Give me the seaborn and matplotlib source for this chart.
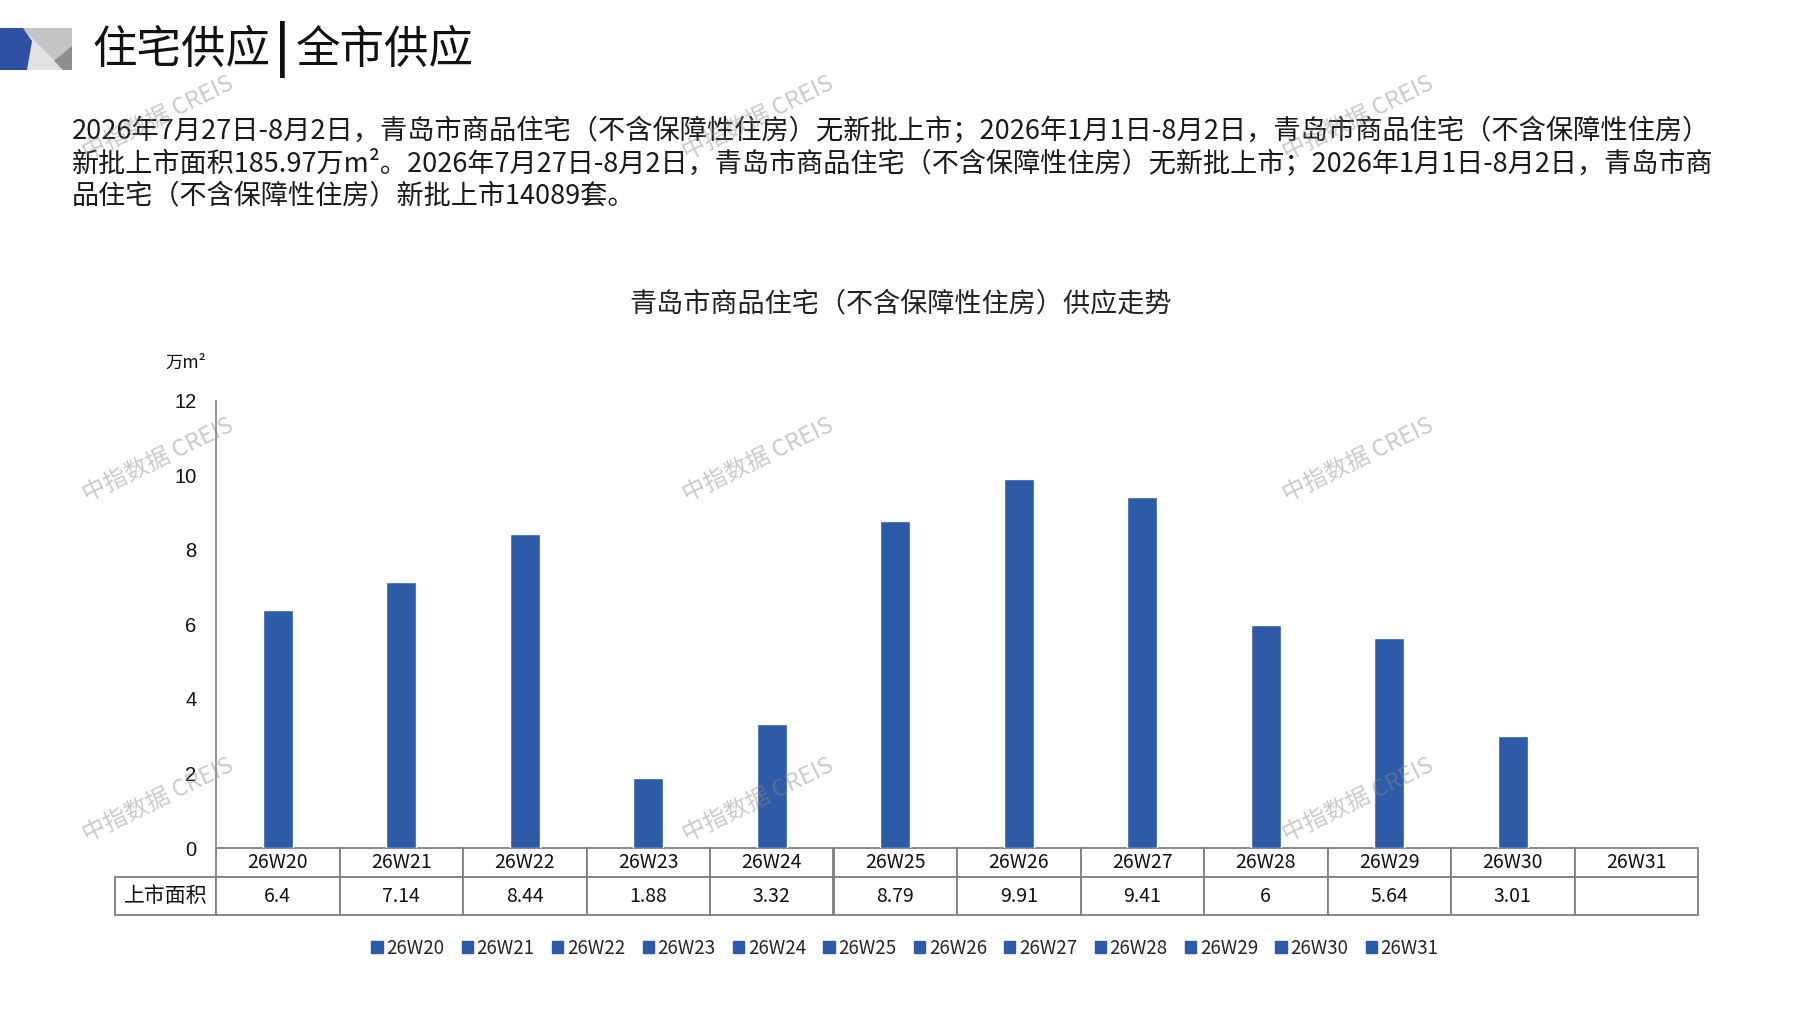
import numpy as np
import pandas as pd
import matplotlib
matplotlib.use("Agg")
import matplotlib.pyplot as plt
from matplotlib.patches import Polygon, Patch
import seaborn as sns

# ---------------- data ----------------
weeks = ["26W20", "26W21", "26W22", "26W23", "26W24", "26W25",
         "26W26", "26W27", "26W28", "26W29", "26W30", "26W31"]
area = [6.4, 7.14, 8.44, 1.88, 3.32, 8.79, 9.91, 9.41, 6, 5.64, 3.01, np.nan]
row_label = "上市面积"
y_ticks = [0, 2, 4, 6, 8, 10, 12]

title_left = "住宅供应"
title_bar = "|"
title_right = "全市供应"
para_lines = [
    "2026年7月27日-8月2日，青岛市商品住宅（不含保障性住房）无新批上市；2026年1月1日-8月2日，青岛市商品住宅（不含保障性住房）",
    "新批上市面积185.97万m²。2026年7月27日-8月2日，青岛市商品住宅（不含保障性住房）无新批上市；2026年1月1日-8月2日，青岛市商",
    "品住宅（不含保障性住房）新批上市14089套。",
]
chart_title = "青岛市商品住宅（不含保障性住房）供应走势"
unit_label = "万m²"
watermark = "中指数据 CREIS"

BAR = "#2E5BA8"
GRID = "#8c8c8c"

sns.set_style("white")
plt.rcParams["font.family"] = ["Noto Sans CJK SC", "DejaVu Sans"]

W, H = 1797, 1010
fig = plt.figure(figsize=(W / 100, H / 100), dpi=100)

def fx(x):
    return x / W

def fy(y):
    return 1 - y / H

# axes placement (pixels)
ax_l, ax_r, ax_t, ax_b = 216, 1698, 401, 848
ax = fig.add_axes([fx(ax_l), fy(ax_b), (ax_r - ax_l) / W, (ax_b - ax_t) / H])

df = pd.DataFrame({"week": weeks, "area": area})
sns.barplot(data=df, x="week", y="area", hue="week", order=weeks, hue_order=weeks,
            palette=[BAR] * len(weeks), width=0.245, dodge=False, legend=False,
            saturation=1, ax=ax)

ax.set_ylim(0, 12)
ax.set_xlim(-0.5, len(weeks) - 0.5)
ax.set_yticks(y_ticks)
ax.set_yticklabels([str(t) for t in y_ticks])
ax.set_xticks([])
ax.set_xlabel("")
ax.set_ylabel("")
for s in ["top", "right", "bottom"]:
    ax.spines[s].set_visible(False)
ax.spines["left"].set_color(GRID)
ax.spines["left"].set_linewidth(1.3)
ax.tick_params(axis="y", direction="in", length=5, width=1.2, color=GRID,
               labelsize=14.5, pad=14, labelcolor="#111111")
for lab in ax.get_yticklabels():
    lab.set_family(["Liberation Sans", "DejaVu Sans"])

# data table under the axis: first column holds the row label
axw = ax_r - ax_l
axh = ax_b - ax_t
tbl_left, tbl_bottom = 115, 915
label_w = ax_l - tbl_left
val_strs = ["" if np.isnan(v) else f"{v:g}" for v in area]
tbl = ax.table(cellText=[[row_label] + val_strs], colLabels=[""] + weeks,
               cellLoc="center",
               bbox=[-label_w / axw, -(tbl_bottom - ax_b) / axh,
                     (axw + label_w) / axw, (tbl_bottom - ax_b) / axh])
tbl.auto_set_font_size(False)
tbl.set_fontsize(14)
for (r, c), cell in tbl.get_celld().items():
    cell.set_edgecolor("#808080")
    cell.set_linewidth(1.3)
    cell.set_height(29 if r == 0 else 38)
    cell.set_width(label_w if c == 0 else axw / len(weeks))
    cell.get_text().set_color("#111111")
    if c == 0:
        cell.get_text().set_fontsize(15)
        if r == 0:
            cell.visible_edges = ""

# legend
handles = [Patch(facecolor=BAR, edgecolor=BAR) for _ in weeks]
fig.legend(handles, weeks, loc="center", bbox_to_anchor=(fx(905), fy(948)),
           ncol=len(weeks), frameon=False, fontsize=13.5, handlelength=0.6,
           handleheight=0.6, handletextpad=0.2, columnspacing=0.92)

# unit label
fig.text(fx(186), fy(363), unit_label, ha="center", va="center", fontsize=12.5,
         color="#111111")

# chart title
fig.text(fx(901), fy(304), chart_title, ha="center", va="center", fontsize=19.5,
         color="#222222")

# page title and icon
fig.add_artist(Polygon([(fx(0), fy(28)), (fx(72), fy(28)), (fx(72), fy(70)), (fx(0), fy(70))],
                       closed=True, transform=fig.transFigure, facecolor="#c4c4c4", edgecolor="none"))
fig.add_artist(Polygon([(fx(22), fy(28)), (fx(64), fy(70)), (fx(0), fy(70))],
                       closed=True, transform=fig.transFigure, facecolor="#e2e2e2", edgecolor="none"))
fig.add_artist(Polygon([(fx(72), fy(46)), (fx(54), fy(61)), (fx(63), fy(70)), (fx(72), fy(70))],
                       closed=True, transform=fig.transFigure, facecolor="#8e8e8e", edgecolor="none"))
fig.add_artist(Polygon([(fx(0), fy(28)), (fx(23), fy(28)), (fx(32), fy(41)), (fx(27), fy(70)), (fx(0), fy(70))],
                       closed=True, transform=fig.transFigure, facecolor="#2F4FA2", edgecolor="none"))
fig.text(fx(92), fy(50), title_left, ha="left", va="center", fontsize=32, color="#111111")
fig.text(fx(282), fy(50), title_bar, ha="center", va="center", fontsize=36,
         fontweight="bold", color="#111111")
fig.text(fx(296), fy(50), title_right, ha="left", va="center", fontsize=32, color="#111111")

# paragraph
para_sizes = [19.6, 19.5, 19.5]
for i, line in enumerate(para_lines):
    fig.text(fx(72), fy(131 + i * 32.5), line, ha="left", va="center",
             fontsize=para_sizes[i], color="#1a1a1a")

# watermarks
for wy in (118, 460, 800):
    for wx in (158, 758, 1358):
        fig.text(fx(wx), fy(wy), watermark, ha="center", va="center", rotation=26,
                 fontsize=17, color="#8a8a8a", alpha=0.45, zorder=20)

fig.savefig("out.png", dpi=100)
